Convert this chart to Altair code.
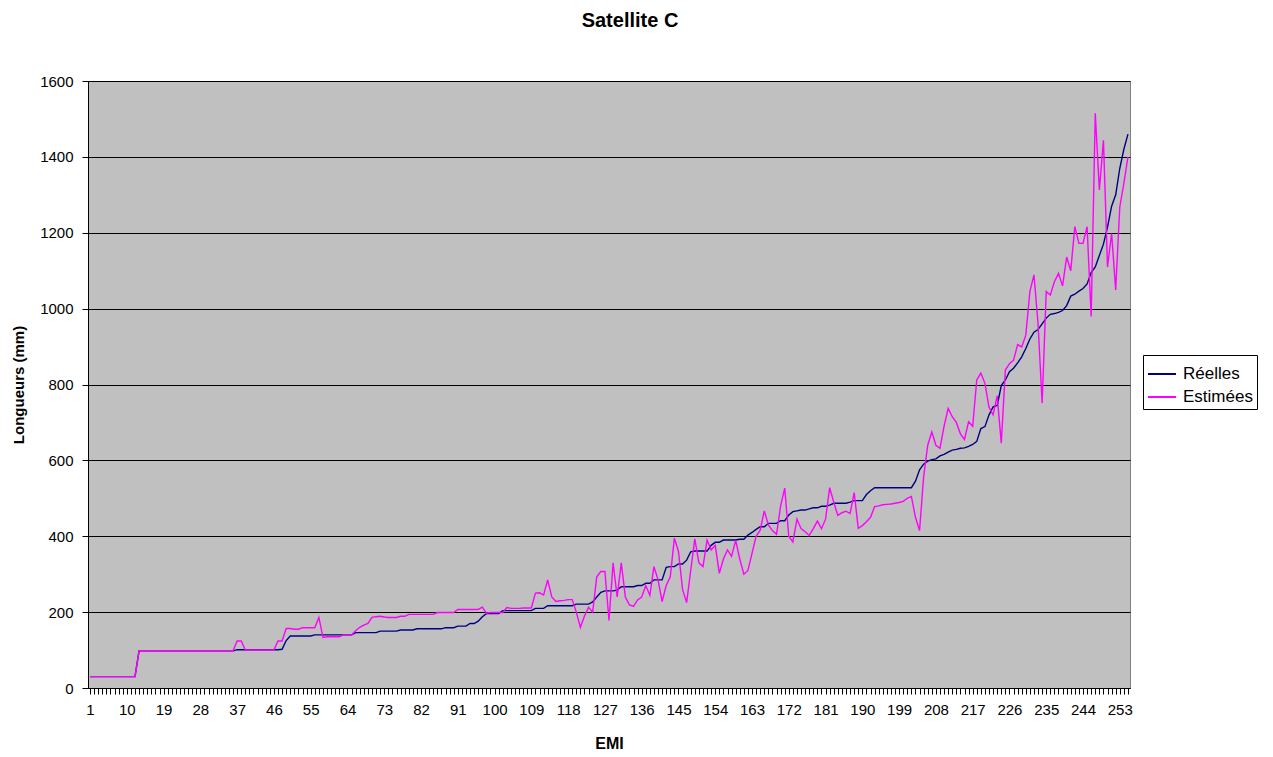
import altair as alt
import pandas as pd

# Categories (EMI index) and the two series
emi = list(range(1, 256))

reelles = (
    [30] * 12 + [98] * 24 + [101] * 11 + [102, 125] + [137] * 6 + [140] * 10
    + [146] * 6 + [150] * 5 + [153] * 4 + [156] * 7 + [159] * 3 + [163] * 3
    + [170, 170, 176, 188] + [196] * 4 + [204] * 8 + [210] * 3 + [217] * 7
    + [221] * 4 + [227, 240, 252, 256, 256, 256, 258] + [267] * 4
    + [270, 270, 276, 276, 285, 285, 285, 318, 320, 320, 327, 327, 337, 359]
    + [361] * 4 + [376, 384, 384] + [390] * 4 + [392, 392, 403, 410, 418, 425, 425]
    + [434, 434, 434, 441, 441, 456, 465, 467, 469, 469, 472, 475, 475, 479, 479, 482]
    + [487] * 4 + [490, 494, 494, 494, 510, 520] + [528] * 10
    + [545, 575, 590, 598, 602, 604, 612, 616, 622, 627, 629, 632, 633, 637, 642, 650,
       684, 689, 720, 741, 745, 797, 812, 834, 843, 857, 873, 895, 920, 938, 945, 960,
       975, 985, 987, 990, 995, 1008, 1033, 1038, 1046, 1053, 1065, 1095, 1110, 1140,
       1170, 1215, 1270, 1300, 1370, 1420, 1460]
)

estimees = (
    [30] * 12 + [98] * 24 + [124, 124] + [100] * 8 + [124, 124, 157, 157, 155, 155]
    + [159] * 4 + [186, 133] + [135] * 4 + [140] * 3
    + [151, 160, 166, 170, 186, 188, 189, 187, 186, 186, 186, 189, 189]
    + [194] * 7 + [199] * 5 + [207] * 6 + [213, 197] + [199] * 4
    + [212, 210, 210, 210, 211, 211, 211, 250, 251, 245, 285, 240, 228, 230, 231, 233,
       233, 200, 160, 190, 213, 200, 293, 307, 307, 178, 330, 240, 330, 240, 219, 215,
       232, 240, 270, 244, 320, 285, 228, 270, 293, 395, 360, 260, 225, 310, 393, 330,
       320, 390, 364, 376, 302, 340, 364, 347, 389, 340, 300, 310, 355, 400, 416, 467,
       430, 415, 405, 480, 527, 400, 385, 445, 420, 412, 402, 420, 440, 420, 445, 528,
       490, 455, 462, 466, 460, 515, 421, 428, 438, 450, 478, 480, 483, 484, 485, 487,
       489, 492, 500, 505, 450, 415, 557, 640, 675, 640, 632, 690, 737, 715, 700, 670,
       655, 702, 690, 812, 830, 803, 740, 720, 770, 645, 838, 855, 864, 905, 899, 930,
       1045, 1089, 960, 751, 1045, 1036, 1071, 1093, 1060, 1136, 1100, 1216, 1172, 1172,
       1216, 979, 1515, 1313, 1444, 1110, 1198, 1049, 1268, 1330, 1400]
)

assert len(reelles) == 255, len(reelles)
assert len(estimees) == 255, len(estimees)

series_names = ["Réelles", "Estimées"]
series_colors = ["#000080", "#FF00FF"]
y_ticks = [0, 200, 400, 600, 800, 1000, 1200, 1400, 1600]

df = pd.DataFrame({
    "EMI": emi + emi,
    "Longueur": reelles + estimees,
    "Serie": [series_names[0]] * 255 + [series_names[1]] * 255,
})

FONT = "Liberation Sans"

x_enc = alt.X(
    "EMI:Q",
    scale=alt.Scale(domain=[0.5, 255.5], nice=False, zero=False),
    axis=alt.Axis(
        values=emi,
        labelExpr="(datum.value - 1) % 9 == 0 ? datum.label : ''",
        format="d",
        title="EMI",
        titleFont=FONT, titleFontSize=16, titleFontWeight="bold", titleColor="black",
        titleY=55, titleBaseline="middle",
        labelFont=FONT, labelFontSize=15, labelColor="black", labelPadding=8,
        labelOverlap=False, labelFlush=False,
        grid=False, tickSize=6, tickColor="black", domainColor="black",
    ),
)
y_enc = alt.Y(
    "Longueur:Q",
    scale=alt.Scale(domain=[0, 1600], nice=False),
    axis=alt.Axis(
        values=y_ticks,
        format="d",
        title="Longueurs (mm)",
        titleFont=FONT, titleFontSize=15, titleFontWeight="bold", titleColor="black",
        titleX=-70, titleBaseline="middle",
        labelFont=FONT, labelFontSize=15, labelColor="black", labelPadding=9,
        grid=True, gridColor="black", gridWidth=1, gridOpacity=1,
        tickSize=6, tickColor="black", domainColor="black",
    ),
)
color_enc = alt.Color(
    "Serie:N",
    scale=alt.Scale(domain=series_names, range=series_colors),
    legend=alt.Legend(
        title=None, orient="none", legendX=1055, legendY=274,
        symbolType="stroke", symbolSize=784, symbolStrokeWidth=2,
        labelFont=FONT, labelFontSize=17, labelColor="black",
        strokeColor="black", fillColor="white", padding=4, rowPadding=0,
        labelOffset=6,
    ),
)

base = alt.Chart(df).mark_line(strokeWidth=1.4).encode(x=x_enc, y=y_enc, color=color_enc)

blue = base.transform_filter(alt.datum.Serie == series_names[0])
pink = base.transform_filter(alt.datum.Serie == series_names[1])

chart = alt.layer(blue, pink).properties(
    width=1042,
    height=607,
    autosize=alt.AutoSizeParams(type="none"),
    padding={"left": 80, "top": 73, "right": 135, "bottom": 68},
    title=alt.TitleParams(
        "Satellite C", font=FONT, fontSize=20, fontWeight="bold", color="black",
        anchor="middle", dx=21, offset=43,
    ),
    background="white",
).configure_view(fill="#C0C0C0", stroke="#808080")

chart.save("out.html", embed_options={"renderer": "svg", "actions": False})
